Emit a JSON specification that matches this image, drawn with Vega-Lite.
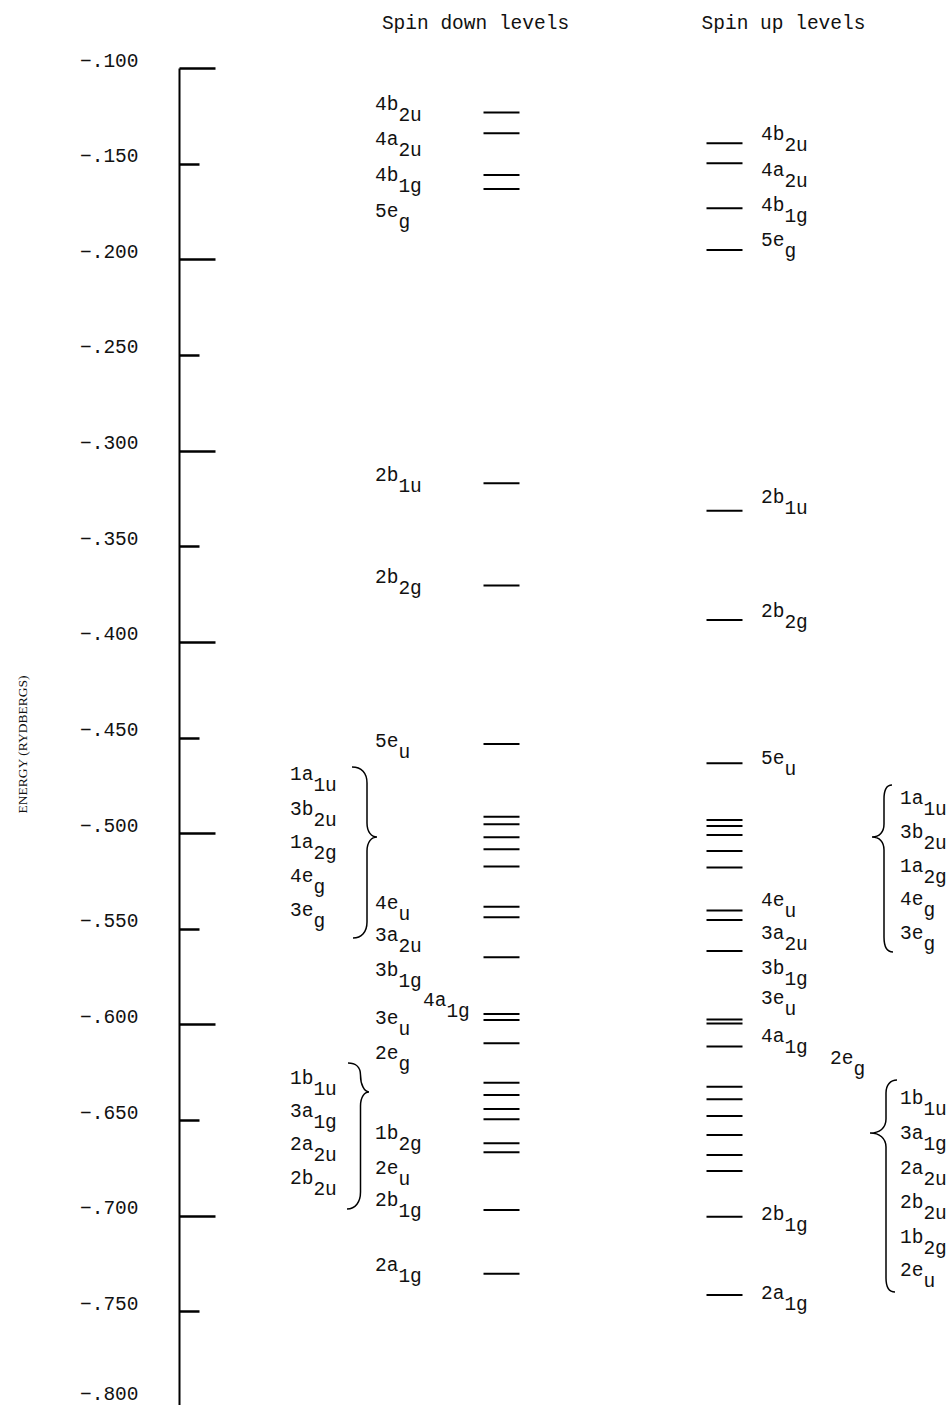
{
  "$schema": "https://vega.github.io/schema/vega-lite/v6.json",
  "width": 771,
  "height": 1339,
  "autosize": {"type": "none"},
  "padding": {"left": 179, "top": 68, "right": 0, "bottom": 0},
  "background": "white",
  "config": {"view": {"stroke": null}, "font": "Liberation Mono"},
  "datasets": {
    "levels": [
      {"spin": "down", "e": -0.1232}, {"spin": "down", "e": -0.1341}, {"spin": "down", "e": -0.1559}, {"spin": "down", "e": -0.1633},
      {"spin": "down", "e": -0.3171}, {"spin": "down", "e": -0.3706}, {"spin": "down", "e": -0.4534},
      {"spin": "down", "e": -0.4914}, {"spin": "down", "e": -0.4954}, {"spin": "down", "e": -0.5022}, {"spin": "down", "e": -0.5084}, {"spin": "down", "e": -0.5175},
      {"spin": "down", "e": -0.5385}, {"spin": "down", "e": -0.5440}, {"spin": "down", "e": -0.5649}, {"spin": "down", "e": -0.5946}, {"spin": "down", "e": -0.5977}, {"spin": "down", "e": -0.6099},
      {"spin": "down", "e": -0.6305}, {"spin": "down", "e": -0.6369}, {"spin": "down", "e": -0.6442}, {"spin": "down", "e": -0.6496}, {"spin": "down", "e": -0.6621}, {"spin": "down", "e": -0.6668},
      {"spin": "down", "e": -0.6970}, {"spin": "down", "e": -0.7303},
      {"spin": "up", "e": -0.1394}, {"spin": "up", "e": -0.1498}, {"spin": "up", "e": -0.1733}, {"spin": "up", "e": -0.1951},
      {"spin": "up", "e": -0.3314}, {"spin": "up", "e": -0.3886}, {"spin": "up", "e": -0.4635},
      {"spin": "up", "e": -0.4931}, {"spin": "up", "e": -0.4963}, {"spin": "up", "e": -0.5010}, {"spin": "up", "e": -0.5093}, {"spin": "up", "e": -0.5179},
      {"spin": "up", "e": -0.5405}, {"spin": "up", "e": -0.5454}, {"spin": "up", "e": -0.5616}, {"spin": "up", "e": -0.5974}, {"spin": "up", "e": -0.5995}, {"spin": "up", "e": -0.6115},
      {"spin": "up", "e": -0.6326}, {"spin": "up", "e": -0.6391}, {"spin": "up", "e": -0.6479}, {"spin": "up", "e": -0.6578}, {"spin": "up", "e": -0.6683}, {"spin": "up", "e": -0.6766},
      {"spin": "up", "e": -0.7005}, {"spin": "up", "e": -0.7414}
    ],
    "labels": [
      {"spin": "down", "grp": "col", "base": "4b", "sub": "2u", "e": -0.1220},
      {"spin": "down", "grp": "col", "base": "4a", "sub": "2u", "e": -0.1405},
      {"spin": "down", "grp": "col", "base": "4b", "sub": "1g", "e": -0.1591},
      {"spin": "down", "grp": "col", "base": "5e", "sub": "g", "e": -0.1779},
      {"spin": "down", "grp": "col", "base": "2b", "sub": "1u", "e": -0.3159},
      {"spin": "down", "grp": "col", "base": "2b", "sub": "2g", "e": -0.3692},
      {"spin": "down", "grp": "col", "base": "5e", "sub": "u", "e": -0.4550},
      {"spin": "down", "grp": "col", "base": "4e", "sub": "u", "e": -0.5397},
      {"spin": "down", "grp": "col", "base": "3a", "sub": "2u", "e": -0.5564},
      {"spin": "down", "grp": "col", "base": "3b", "sub": "1g", "e": -0.5747},
      {"spin": "down", "grp": "col", "base": "3e", "sub": "u", "e": -0.5998},
      {"spin": "down", "grp": "col", "base": "2e", "sub": "g", "e": -0.6181},
      {"spin": "down", "grp": "col", "base": "1b", "sub": "2g", "e": -0.6599},
      {"spin": "down", "grp": "col", "base": "2e", "sub": "u", "e": -0.6782},
      {"spin": "down", "grp": "col", "base": "2b", "sub": "1g", "e": -0.6949},
      {"spin": "down", "grp": "col", "base": "2a", "sub": "1g", "e": -0.7289},
      {"spin": "down", "grp": "ext", "base": "4a", "sub": "1g", "e": -0.5904},
      {"spin": "down", "grp": "brace", "base": "1a", "sub": "1u", "e": -0.4722},
      {"spin": "down", "grp": "brace", "base": "3b", "sub": "2u", "e": -0.4905},
      {"spin": "down", "grp": "brace", "base": "1a", "sub": "2g", "e": -0.5078},
      {"spin": "down", "grp": "brace", "base": "4e", "sub": "g", "e": -0.5255},
      {"spin": "down", "grp": "brace", "base": "3e", "sub": "g", "e": -0.5433},
      {"spin": "down", "grp": "brace", "base": "1b", "sub": "1u", "e": -0.6312},
      {"spin": "down", "grp": "brace", "base": "3a", "sub": "1g", "e": -0.6484},
      {"spin": "down", "grp": "brace", "base": "2a", "sub": "2u", "e": -0.6656},
      {"spin": "down", "grp": "brace", "base": "2b", "sub": "2u", "e": -0.6834},
      {"spin": "up", "grp": "col", "base": "4b", "sub": "2u", "e": -0.1376},
      {"spin": "up", "grp": "col", "base": "4a", "sub": "2u", "e": -0.1565},
      {"spin": "up", "grp": "col", "base": "4b", "sub": "1g", "e": -0.1748},
      {"spin": "up", "grp": "col", "base": "5e", "sub": "g", "e": -0.1931},
      {"spin": "up", "grp": "col", "base": "2b", "sub": "1u", "e": -0.3274},
      {"spin": "up", "grp": "col", "base": "2b", "sub": "2g", "e": -0.3870},
      {"spin": "up", "grp": "col", "base": "5e", "sub": "u", "e": -0.4639},
      {"spin": "up", "grp": "col", "base": "4e", "sub": "u", "e": -0.5381},
      {"spin": "up", "grp": "col", "base": "3a", "sub": "2u", "e": -0.5553},
      {"spin": "up", "grp": "col", "base": "3b", "sub": "1g", "e": -0.5736},
      {"spin": "up", "grp": "col", "base": "3e", "sub": "u", "e": -0.5893},
      {"spin": "up", "grp": "col", "base": "4a", "sub": "1g", "e": -0.6092},
      {"spin": "up", "grp": "col", "base": "2b", "sub": "1g", "e": -0.7022},
      {"spin": "up", "grp": "col", "base": "2a", "sub": "1g", "e": -0.7435},
      {"spin": "up", "grp": "ext", "base": "2e", "sub": "g", "e": -0.6207},
      {"spin": "up", "grp": "brace", "base": "1a", "sub": "1u", "e": -0.4848},
      {"spin": "up", "grp": "brace", "base": "3b", "sub": "2u", "e": -0.5025},
      {"spin": "up", "grp": "brace", "base": "1a", "sub": "2g", "e": -0.5203},
      {"spin": "up", "grp": "brace", "base": "4e", "sub": "g", "e": -0.5376},
      {"spin": "up", "grp": "brace", "base": "3e", "sub": "g", "e": -0.5553},
      {"spin": "up", "grp": "brace", "base": "1b", "sub": "1u", "e": -0.6416},
      {"spin": "up", "grp": "brace", "base": "3a", "sub": "1g", "e": -0.6599},
      {"spin": "up", "grp": "brace", "base": "2a", "sub": "2u", "e": -0.6782},
      {"spin": "up", "grp": "brace", "base": "2b", "sub": "2u", "e": -0.6960},
      {"spin": "up", "grp": "brace", "base": "1b", "sub": "2g", "e": -0.7143},
      {"spin": "up", "grp": "brace", "base": "2e", "sub": "u", "e": -0.7315}
    ],
    "braces": [
      {"spin": "down", "brace": "d1", "e": -0.5020},
      {"spin": "down", "brace": "d2", "e": -0.6353},
      {"spin": "up", "brace": "u1", "e": -0.5020},
      {"spin": "up", "brace": "u2", "e": -0.6568}
    ]
  },
  "encoding": {
    "x": {
      "field": "spin", "type": "nominal",
      "scale": {"type": "point", "domain": ["down", "up"], "range": [322.5, 545.5], "padding": 0},
      "axis": {
        "orient": "top", "title": null, "domain": false, "ticks": false, "grid": false,
        "labelExpr": "datum.value == 'down' ? 'Spin down levels' : 'Spin up levels'",
        "labelFont": "Liberation Mono", "labelFontSize": 19.5, "labelColor": "#111", "labelAngle": 0,
        "labelBaseline": "middle", "labelPadding": 46, "labelLimit": 0,
        "labelOffset": {"condition": {"test": "datum.value == 'down'", "value": -26.5}, "value": 58.5},
        "labelOverlap": false, "labelBound": false, "labelFlush": false
      }
    },
    "y": {
      "field": "e", "type": "quantitative",
      "scale": {"domain": [-0.8, -0.1], "nice": false, "zero": false},
      "axis": {
        "orient": "left", "title": "ENERGY (RYDBERGS)",
        "titleFont": "Liberation Serif", "titleFontSize": 13.5, "titleFontWeight": "normal", "titleColor": "#111",
        "titleAngle": -90, "titleX": -157, "titleY": 676, "titleAlign": "center", "titleBaseline": "middle",
        "values": [-0.1, -0.15, -0.2, -0.25, -0.3, -0.35, -0.4, -0.45, -0.5, -0.55, -0.6, -0.65, -0.7, -0.75, -0.8],
        "domainColor": "black", "domainWidth": 2, "grid": false,
        "tickColor": "black", "tickWidth": 2.5,
        "tickSize": {"condition": {"test": "round(abs(datum.value) * 1000) % 100 == 0", "value": -36}, "value": -20},
        "labelPadding": {"condition": {"test": "round(abs(datum.value) * 1000) % 100 == 0", "value": 77}, "value": 61},
        "labelExpr": "replace(format(datum.value, '.3f'), '0.', '.')",
        "labelFont": "Liberation Mono", "labelFontSize": 19.5, "labelColor": "#111", "labelLimit": 0,
        "labelOffset": {"condition": {"test": "datum.value < -0.79", "value": -14}, "value": -8},
        "labelOverlap": false, "labelFlush": false, "labelBound": false
      }
    }
  },
  "layer": [
    {
      "data": {"name": "levels"},
      "mark": {"type": "tick", "orient": "horizontal", "size": 36, "thickness": 2, "color": "black", "opacity": 1}
    },
    {
      "data": {"name": "braces"},
      "mark": {"type": "point", "filled": false, "size": 4, "stroke": "black", "strokeWidth": 1.5, "opacity": 1},
      "encoding": {
        "shape": {
          "field": "brace", "type": "nominal", "legend": null,
          "scale": {
            "domain": ["d1", "d2", "u1", "u2"],
            "range": [
              "M -149.5 -70 C -140 -70 -134.5 -64 -134.5 -54 L -134.5 -14 C -134.5 -5 -130 0 -124.5 0 C -130 0 -134.5 5 -134.5 14 L -134.5 85 C -134.5 95 -140 101 -148.5 101",
              "M -153.5 -29 C -146 -29 -141 -25 -141 -17 C -141 -7 -137 0 -132.5 0 C -137 0 -141 5 -141 14 L -141 100 C -141 110 -146 117 -154.5 117",
              "M 167.5 -52 C 162 -52 159.5 -47 159.5 -38 L 159.5 -13 C 159.5 -5 155 0 147.5 0 C 155 0 159.5 5 159.5 13 L 159.5 100 C 159.5 109 162 115 168.5 115",
              "M 172.5 -53 C 166 -53 161.5 -48 161.5 -40 L 161.5 -14 C 161.5 -5 155 0 145.5 0 C 155 0 161.5 5 161.5 14 L 161.5 145 C 161.5 153 164 159 170.5 159"
            ]
          }
        }
      }
    },
    {
      "data": {"name": "labels"},
      "transform": [{"filter": "datum.spin == 'down' && datum.grp == 'col'"}],
      "mark": {"type": "text", "align": "left", "baseline": "alphabetic", "dx": -126.5, "font": "Liberation Mono", "fontSize": 19.5, "color": "#111"},
      "encoding": {"text": {"field": "base"}}
    },
    {
      "data": {"name": "labels"},
      "transform": [{"filter": "datum.spin == 'down' && datum.grp == 'col'"}],
      "mark": {"type": "text", "align": "left", "baseline": "alphabetic", "dx": -103.1, "dy": 11, "font": "Liberation Mono", "fontSize": 19.5, "color": "#111"},
      "encoding": {"text": {"field": "sub"}}
    },
    {
      "data": {"name": "labels"},
      "transform": [{"filter": "datum.spin == 'down' && datum.grp == 'ext'"}],
      "mark": {"type": "text", "align": "left", "baseline": "alphabetic", "dx": -78.5, "font": "Liberation Mono", "fontSize": 19.5, "color": "#111"},
      "encoding": {"text": {"field": "base"}}
    },
    {
      "data": {"name": "labels"},
      "transform": [{"filter": "datum.spin == 'down' && datum.grp == 'ext'"}],
      "mark": {"type": "text", "align": "left", "baseline": "alphabetic", "dx": -55.1, "dy": 11, "font": "Liberation Mono", "fontSize": 19.5, "color": "#111"},
      "encoding": {"text": {"field": "sub"}}
    },
    {
      "data": {"name": "labels"},
      "transform": [{"filter": "datum.spin == 'down' && datum.grp == 'brace'"}],
      "mark": {"type": "text", "align": "left", "baseline": "alphabetic", "dx": -211.5, "font": "Liberation Mono", "fontSize": 19.5, "color": "#111"},
      "encoding": {"text": {"field": "base"}}
    },
    {
      "data": {"name": "labels"},
      "transform": [{"filter": "datum.spin == 'down' && datum.grp == 'brace'"}],
      "mark": {"type": "text", "align": "left", "baseline": "alphabetic", "dx": -188.1, "dy": 11, "font": "Liberation Mono", "fontSize": 19.5, "color": "#111"},
      "encoding": {"text": {"field": "sub"}}
    },
    {
      "data": {"name": "labels"},
      "transform": [{"filter": "datum.spin == 'up' && datum.grp == 'col'"}],
      "mark": {"type": "text", "align": "left", "baseline": "alphabetic", "dx": 36.5, "font": "Liberation Mono", "fontSize": 19.5, "color": "#111"},
      "encoding": {"text": {"field": "base"}}
    },
    {
      "data": {"name": "labels"},
      "transform": [{"filter": "datum.spin == 'up' && datum.grp == 'col'"}],
      "mark": {"type": "text", "align": "left", "baseline": "alphabetic", "dx": 59.9, "dy": 11, "font": "Liberation Mono", "fontSize": 19.5, "color": "#111"},
      "encoding": {"text": {"field": "sub"}}
    },
    {
      "data": {"name": "labels"},
      "transform": [{"filter": "datum.spin == 'up' && datum.grp == 'ext'"}],
      "mark": {"type": "text", "align": "left", "baseline": "alphabetic", "dx": 105.5, "font": "Liberation Mono", "fontSize": 19.5, "color": "#111"},
      "encoding": {"text": {"field": "base"}}
    },
    {
      "data": {"name": "labels"},
      "transform": [{"filter": "datum.spin == 'up' && datum.grp == 'ext'"}],
      "mark": {"type": "text", "align": "left", "baseline": "alphabetic", "dx": 128.9, "dy": 11, "font": "Liberation Mono", "fontSize": 19.5, "color": "#111"},
      "encoding": {"text": {"field": "sub"}}
    },
    {
      "data": {"name": "labels"},
      "transform": [{"filter": "datum.spin == 'up' && datum.grp == 'brace'"}],
      "mark": {"type": "text", "align": "left", "baseline": "alphabetic", "dx": 175.5, "font": "Liberation Mono", "fontSize": 19.5, "color": "#111"},
      "encoding": {"text": {"field": "base"}}
    },
    {
      "data": {"name": "labels"},
      "transform": [{"filter": "datum.spin == 'up' && datum.grp == 'brace'"}],
      "mark": {"type": "text", "align": "left", "baseline": "alphabetic", "dx": 198.9, "dy": 11, "font": "Liberation Mono", "fontSize": 19.5, "color": "#111"},
      "encoding": {"text": {"field": "sub"}}
    }
  ]
}
